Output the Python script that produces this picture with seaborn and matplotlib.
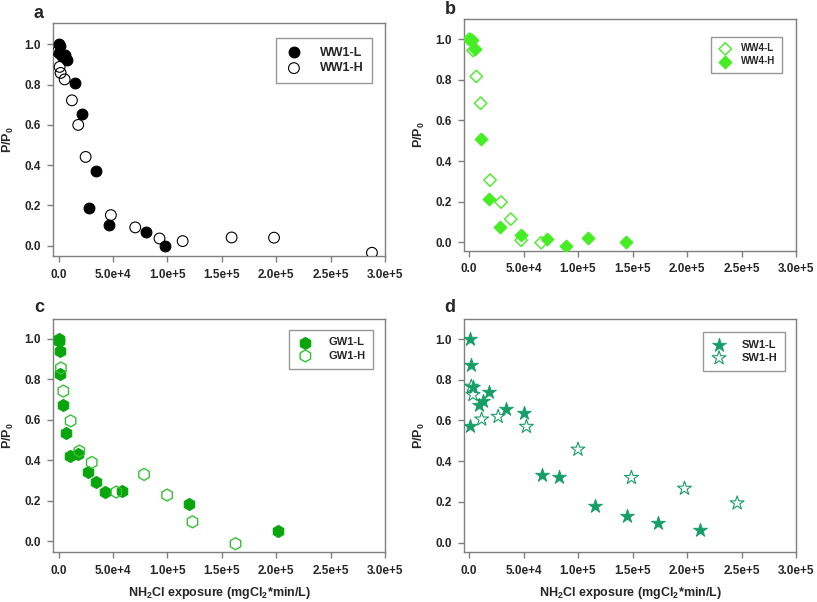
import numpy as np
import pandas as pd
import seaborn as sns
import matplotlib
matplotlib.use("Agg")
import matplotlib.pyplot as plt

# ---------------- data ----------------
# panel a
ww1_l_x = [0, 1500, 500, 3500, 5500, 8000, 15000, 21500, 34000, 27500, 46000, 80000, 98000]
ww1_l_y = [1.0, 0.99, 0.955, 0.94, 0.945, 0.92, 0.807, 0.653, 0.372, 0.188, 0.103, 0.069, 0.0]
ww1_h_x = [-800, 900, 1800, 5500, 12200, 18000, 24800, 48000, 70400, 92700, 114000, 159000, 198000, 288000]
ww1_h_y = [0.965, 0.888, 0.858, 0.826, 0.722, 0.60, 0.441, 0.152, 0.091, 0.036, 0.023, 0.041, 0.040, -0.035]
# panel b
ww4_l_x = [0, 3700, 6700, 10700, 19300, 29400, 38300, 47800, 66200]
ww4_l_y = [1.0, 0.945, 0.817, 0.685, 0.306, 0.198, 0.114, 0.010, -0.002]
ww4_h_x = [600, 2800, 5200, 10700, 18400, 28200, 48100, 71700, 89200, 109000, 144000]
ww4_h_y = [1.0, 0.995, 0.95, 0.509, 0.213, 0.077, 0.038, 0.015, -0.020, 0.021, 0.0]
# panel c
gw1_l_x = [0, 300, 900, 1200, 3700, 6400, 10000, 18000, 26700, 34000, 42600, 58000, 120000, 202000]
gw1_l_y = [1.0, 0.99, 0.94, 0.825, 0.672, 0.536, 0.422, 0.43, 0.34, 0.294, 0.244, 0.248, 0.185, 0.05]
gw1_h_x = [2100, 4300, 11000, 19000, 30400, 53000, 78500, 99700, 123000, 162600]
gw1_h_y = [0.855, 0.741, 0.594, 0.445, 0.389, 0.243, 0.330, 0.228, 0.096, -0.012]
# panel d
sw1_l_x = [600, 1500, 3700, 1200, 8900, 12900, 18400, 34300, 50600, 66800, 82700, 115500, 144600, 173800, 211800]
sw1_l_y = [1.0, 0.875, 0.764, 0.573, 0.675, 0.696, 0.739, 0.655, 0.635, 0.330, 0.320, 0.180, 0.131, 0.098, 0.061]
sw1_h_x = [2100, 3700, 11600, 26700, 52700, 100000, 149000, 197700, 246000]
sw1_h_y = [0.767, 0.726, 0.606, 0.619, 0.570, 0.458, 0.319, 0.266, 0.194]

x_ticks = [0, 50000, 100000, 150000, 200000, 250000, 300000]
x_tick_labels = ["0.0", "5.0e+4", "1.0e+5", "1.5e+5", "2.0e+5", "2.5e+5", "3.0e+5"]
y_ticks = [0.0, 0.2, 0.4, 0.6, 0.8, 1.0]
y_tick_labels = ["0.0", "0.2", "0.4", "0.6", "0.8", "1.0"]

# ---------------- style ----------------
sns.set_style("white")
plt.rcParams["font.family"] = ["Liberation Sans", "DejaVu Sans"]
plt.rcParams["mathtext.fontset"] = "custom"
plt.rcParams["mathtext.rm"] = "Liberation Sans:bold"
plt.rcParams["mathtext.bf"] = "Liberation Sans:bold"
plt.rcParams["mathtext.it"] = "Liberation Sans:bold"
plt.rcParams["mathtext.default"] = "bf"

W, H = 817, 602
fig = plt.figure(figsize=(W / 100, H / 100), dpi=100)


def px_axes(l, t, r, b):
    return fig.add_axes([l / W, 1 - b / H, (r - l) / W, (b - t) / H])


spine_col = "#7f7f7f"


def style_ax(ax, ylim, xlim, xlabel=False):
    ax.set_xlim(*xlim)
    ax.set_ylim(*ylim)
    ax.set_xticks(x_ticks)
    ax.set_xticklabels(x_tick_labels)
    ax.set_yticks(y_ticks)
    ax.set_yticklabels(y_tick_labels)
    for s in ax.spines.values():
        s.set_color(spine_col)
        s.set_linewidth(1.0)
        s.set_visible(True)
    ax.tick_params(axis="both", which="both", direction="out", length=4, width=1,
                   color=spine_col, labelsize=8.5, pad=5, bottom=True, left=True,
                   top=False, right=False)
    for lab in ax.get_xticklabels() + ax.get_yticklabels():
        lab.set_fontweight("bold")
    ax.set_ylabel("P/P$_0$", fontsize=9, fontweight="bold")
    ax.yaxis.set_label_coords(-0.11, 0.5)
    if xlabel:
        ax.set_xlabel("NH$_2$Cl exposure (mgCl$_2$*min/L)", fontsize=9, fontweight="bold", labelpad=6)
    else:
        ax.set_xlabel("")


def scat(ax, xs, ys, color, marker, s, filled, label, lw=1.0):
    df = pd.DataFrame({"x": xs, "y": ys})
    if filled:
        sns.scatterplot(data=df, x="x", y="y", ax=ax, marker=marker, s=s,
                        color=color, edgecolor=color, linewidth=lw, label=label, zorder=3)
    else:
        sns.scatterplot(data=df, x="x", y="y", ax=ax, marker=marker, s=s,
                        color=color, facecolor="none", edgecolor=color, linewidth=lw,
                        label=label, zorder=3)


def legend(ax, anchor, fs, weight="bold", htp=1.2, bp=0.7):
    leg = ax.legend(loc="upper right", bbox_to_anchor=anchor, frameon=True, fancybox=False,
                    edgecolor=spine_col, prop={"size": fs, "weight": weight},
                    borderpad=bp, handletextpad=htp, labelspacing=0.3,
                    borderaxespad=0, markerscale=1.0, handlelength=1.5)
    leg.get_frame().set_linewidth(1.0)
    return leg


# panel a
ax_a = px_axes(53, 23, 385, 256)
scat(ax_a, ww1_l_x, ww1_l_y, "black", "o", 60, True, "WW1-L", 0.8)
scat(ax_a, ww1_h_x, ww1_h_y, "black", "o", 60, False, "WW1-H", 0.8)
style_ax(ax_a, (-0.051, 1.106), (-5200, 300000))
legend(ax_a, (0.961, 0.936), 9, htp=1.3)

# panel b
green_b = "#44ee22"
ax_b = px_axes(464, 19, 796, 251)
scat(ax_b, ww4_l_x, ww4_l_y, green_b, "D", 40, False, "WW4-L", 1.0)
scat(ax_b, ww4_h_x, ww4_h_y, green_b, "D", 40, True, "WW4-H", 1.0)
style_ax(ax_b, (-0.043, 1.10), (-4600, 300000))
legend(ax_b, (0.959, 0.924), 7, htp=0.9)

# panel c
green_c = "#09a50c"
green_c_open = "#33c233"
ax_c = px_axes(53, 319, 385, 552)
scat(ax_c, gw1_l_x, gw1_l_y, green_c, "h", 75, True, "GW1-L", 0.8)
scat(ax_c, gw1_h_x, gw1_h_y, green_c_open, "h", 75, False, "GW1-H", 1.0)
style_ax(ax_c, (-0.053, 1.097), (-5200, 300000), xlabel=True)
legend(ax_c, (0.964, 0.954), 8, htp=1.3)

# panel d
teal = "#169e69"
ax_d = px_axes(464, 319, 796, 552)
scat(ax_d, sw1_l_x, sw1_l_y, teal, "*", 110, True, "SW1-L", 0.6)
scat(ax_d, sw1_h_x, sw1_h_y, teal, "*", 110, False, "SW1-H", 0.8)
style_ax(ax_d, (-0.046, 1.0985), (-4600, 300000), xlabel=True)
legend(ax_d, (0.968, 0.945), 8, htp=1.3)

# panel letters
for txt, x, y in [("a", 39, 13), ("b", 450, 9), ("c", 39, 308), ("d", 450, 308)]:
    fig.text(x / W, 1 - y / H, txt, fontsize=13, fontweight="bold", ha="center", va="center")

fig.savefig("out.png", dpi=100)
